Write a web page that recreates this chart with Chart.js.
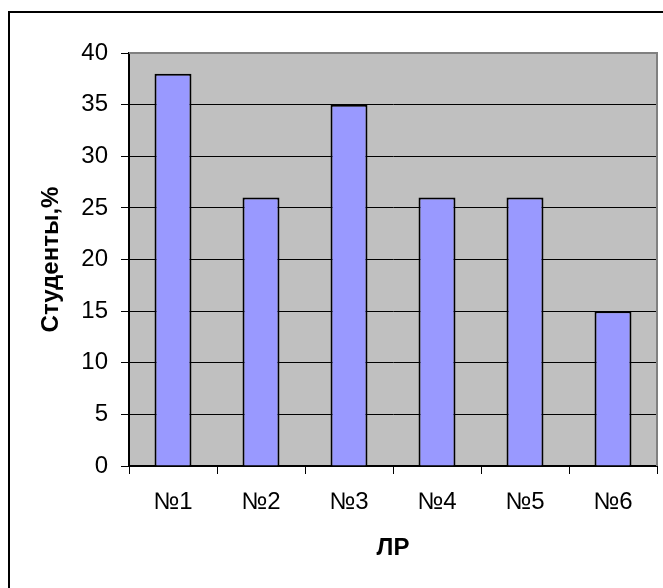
<!DOCTYPE html>
<html>
<head>
<meta charset="utf-8">
<script src="https://cdn.jsdelivr.net/npm/chart.js@4"></script>
<style>
  body { margin: 0; background: #fff; }
  canvas { display: block; }
</style>
</head>
<body>
<canvas id="barChart" width="663" height="588"></canvas>
<script>
const labels = ["№1", "№2", "№3", "№4", "№5", "№6"];
const values = [38, 26, 35, 26, 26, 15];
const yMin = 0;
const yMax = 40;
const yStep = 5;

const fontFamily = "'Liberation Sans', Arial, sans-serif";

// gray plot area + outer frame like the old office chart
const frame = {
  id: "frame",
  beforeDraw(chart) {
    const { ctx, chartArea: a } = chart;
    ctx.save();
    ctx.fillStyle = "#fff";
    ctx.fillRect(0, 0, chart.width, chart.height);
    ctx.fillStyle = "#C0C0C0";
    ctx.fillRect(a.left, a.top, a.right - a.left, a.bottom - a.top);
    ctx.strokeStyle = "#000";
    ctx.lineWidth = 2;
    ctx.strokeRect(9, 12, 1000, 1000);
    ctx.restore();
  },
  afterDraw(chart) {
    const { ctx, chartArea: a } = chart;
    ctx.save();
    ctx.strokeStyle = "#808080";
    ctx.lineWidth = 2;
    ctx.beginPath();
    ctx.moveTo(a.left, a.top);
    ctx.lineTo(a.right, a.top);
    ctx.lineTo(a.right, a.bottom);
    ctx.stroke();
    ctx.restore();
  },
};

const barData = {
  labels: labels,
  datasets: [
    {
      data: values,
      backgroundColor: "#9999FF",
      borderColor: "#000",
      borderWidth: 2,
      barPercentage: 0.42,
      categoryPercentage: 1,
    },
  ],
};

const barConfig = {
  type: "bar",
  data: barData,
  plugins: [frame],
  options: {
    responsive: false,
    animation: false,
    layout: {
      padding: { top: 53, right: 6, left: 0, bottom: 0 },
    },
    plugins: {
      legend: { display: false },
      tooltip: { enabled: false },
    },
    scales: {
      x: {
        afterFit(scale) {
          scale.height = 122;
        },
        title: {
          display: true,
          text: "ЛР",
          color: "#000",
          font: { family: fontFamily, size: 24, weight: "bold" },
          padding: { top: 0, bottom: 25 },
        },
        grid: {
          offset: true,
          drawOnChartArea: false,
          drawTicks: true,
          tickLength: 8,
          color: "#000",
        },
        border: { color: "#000", width: 2 },
        ticks: {
          color: "#000",
          padding: 14,
          font: { family: fontFamily, size: 24 },
        },
      },
      y: {
        min: yMin,
        max: yMax,
        afterFit(scale) {
          scale.width = 129;
        },
        title: {
          display: true,
          text: "Студенты,%",
          color: "#000",
          font: { family: fontFamily, size: 24, weight: "bold" },
          padding: { top: 37, bottom: 0 },
        },
        grid: {
          color: "#000",
          lineWidth: 1,
          tickLength: 8,
        },
        border: { color: "#000", width: 2 },
        ticks: {
          stepSize: yStep,
          color: "#000",
          padding: 13,
          font: { family: fontFamily, size: 24 },
        },
      },
    },
  },
};

new Chart(document.getElementById("barChart"), barConfig);
</script>
</body>
</html>
